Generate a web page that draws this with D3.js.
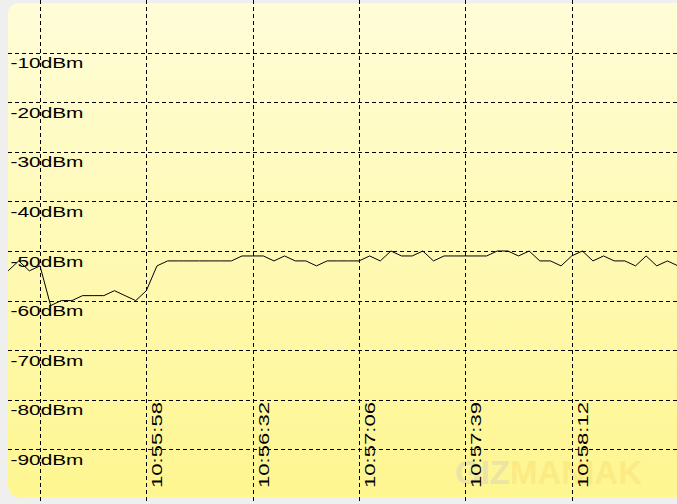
<!DOCTYPE html>
<html>
<head>
<meta charset="utf-8">
<script src="https://cdn.jsdelivr.net/npm/d3@7"></script>
<style>
  body { margin: 0; background: #efefef; }
  svg { display: block; }
  .grid line { stroke: #000; stroke-dasharray: 4,3; shape-rendering: crispEdges; }
  .grid text { font-family: "Liberation Sans", Arial, sans-serif; font-size: 14px; fill: #000; }
</style>
</head>
<body>
<div class="graph"></div>
<script>
// signal level samples, one every ~3.3 s; first sample sits 3 steps left of the first grid line
var firstIndex = -3;
var signal = [-54, -52, -54, -53, -61, -60, -60, -59, -59, -59, -58, -59, -60, -58,
  -53, -52, -52, -52, -52, -52, -52, -52, -51, -51, -51, -52, -51, -52, -52, -53,
  -52, -52, -52, -52, -51, -52, -50, -51, -51, -50, -52, -51, -51, -51, -51, -51,
  -50, -50, -51, -50, -52, -52, -53, -51, -50, -52, -51, -52, -52, -53, -51, -53,
  -52, -53];

var xTickIndex = [0, 10, 20, 30, 40, 50];
var xTickLabels = ["", "10:55:58", "10:56:32", "10:57:06", "10:57:39", "10:58:12"];
var yTicks = [-10, -20, -30, -40, -50, -60, -70, -80, -90];

var W = 677, H = 504;

var svg = d3.select(".graph").append("svg")
    .attr("width", W)
    .attr("height", H);

var defs = svg.append("defs");
var grad = defs.append("linearGradient")
    .attr("id", "bg")
    .attr("x1", 0).attr("y1", 0).attr("x2", 0).attr("y2", 1);
grad.append("stop").attr("offset", "0%").attr("stop-color", "#fffdd8");
grad.append("stop").attr("offset", "100%").attr("stop-color", "#fef690");

defs.append("clipPath").attr("id", "panel")
  .append("rect")
    .attr("x", 8).attr("y", 3)
    .attr("width", 720).attr("height", 494)
    .attr("rx", 11);

svg.append("rect")
    .attr("x", 8).attr("y", 3)
    .attr("width", 720).attr("height", 494)
    .attr("rx", 11)
    .attr("fill", "url(#bg)");

// faint watermark
var wm = svg.append("text")
    .attr("x", 455).attr("y", 484)
    .style("font-family", "'Liberation Sans', Arial, sans-serif")
    .style("font-weight", "bold")
    .style("font-size", "33px");
wm.append("tspan").attr("fill", "#ebe4a6").text("GIZ");
wm.append("tspan").attr("fill", "#fcea84").text("MANIAK");

var x = d3.scaleLinear()
    .domain([0, 50])
    .range([40, 571.7]);

var y = d3.scaleLinear()
    .domain([0, -100])
    .range([3, 499]);

// horizontal grid + dBm labels
var yAxis = d3.axisLeft(y)
    .tickValues(yTicks)
    .tickSize(-(W - 8))
    .tickFormat(function(d) { return d + "dBm"; });

var gy = svg.append("g")
    .attr("class", "grid")
    .attr("transform", "translate(8,0)")
    .call(yAxis);
gy.select(".domain").remove();
gy.selectAll("text")
    .attr("x", 2.5)
    .attr("y", 15)
    .attr("dy", 0)
    .attr("text-anchor", "start")
    .attr("textLength", 73)
    .attr("lengthAdjust", "spacingAndGlyphs");

// vertical grid + time labels
var xAxis = d3.axisBottom(x)
    .tickValues(xTickIndex)
    .tickSize(H)
    .tickFormat(function(d, i) { return xTickLabels[i]; });

var gx = svg.append("g")
    .attr("class", "grid")
    .call(xAxis);
gx.select(".domain").remove();
gx.selectAll("text")
    .attr("transform", "rotate(-90)")
    .attr("x", -488)
    .attr("y", 15.5)
    .attr("dy", 0)
    .attr("text-anchor", "start")
    .attr("textLength", 86)
    .attr("lengthAdjust", "spacingAndGlyphs");

var line = d3.line()
    .x(function(d, i) { return x(i + firstIndex); })
    .y(function(d) { return y(d); });

svg.append("path")
    .datum(signal)
    .attr("clip-path", "url(#panel)")
    .attr("fill", "none")
    .attr("stroke", "#000")
    .attr("stroke-width", 1)
    .attr("d", line);
</script>
</body>
</html>
